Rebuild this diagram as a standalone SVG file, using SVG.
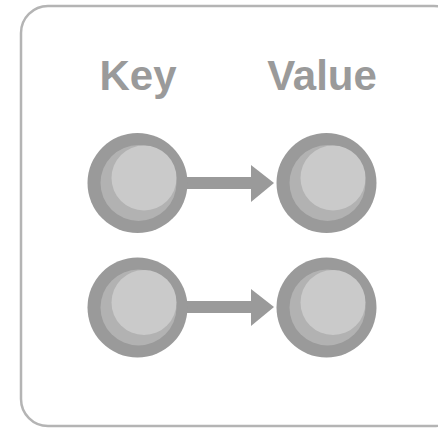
<svg xmlns="http://www.w3.org/2000/svg" width="438" height="430" viewBox="0 0 438 430">
<style>
.frame{fill:#fff;stroke:#b4b4b4;stroke-width:2.5}
.lbl{font-family:"Liberation Sans",Arial,sans-serif;font-weight:bold;font-size:42px;fill:#9a9a9a;text-anchor:middle}
.outer{fill:#9a9a9a}
.mid{fill:#b2b2b2}
.inner{fill:#cacaca}
.edge{stroke:#9a9a9a;stroke-width:12;fill:none}
.head{fill:#9a9a9a}
</style>
<defs>
<g id="node">
<circle class="outer" r="50"/>
<circle class="mid" cx="1" cy="0" r="38"/>
<circle class="inner" cx="6.5" cy="-5" r="32.5"/>
</g>
</defs>
<rect class="frame" x="21" y="6" width="440" height="420" rx="27" ry="27"/>
<text class="lbl" x="138" y="90">Key</text>
<text class="lbl" x="322" y="90">Value</text>
<g id="connectors">
<line class="edge" x1="185" y1="183" x2="254" y2="183"/>
<polygon class="head" points="251,165 274,183 251,202"/>
<line class="edge" x1="185" y1="307" x2="254" y2="307"/>
<polygon class="head" points="251,289 274,307 251,326"/>
</g>
<g id="key1"><use href="#node" x="137.5" y="183"/></g>
<g id="value1"><use href="#node" x="326.5" y="183"/></g>
<g id="key2"><use href="#node" x="137.5" y="307.5"/></g>
<g id="value2"><use href="#node" x="326.5" y="307.5"/></g>
</svg>
